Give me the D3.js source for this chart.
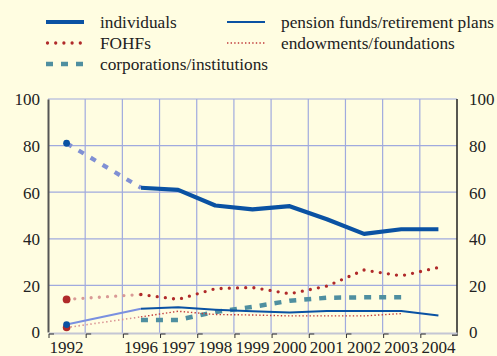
<!DOCTYPE html>
<html>
<head>
<meta charset="utf-8">
<script src="https://cdn.jsdelivr.net/npm/d3@7/dist/d3.min.js"></script>
<style>
  html, body { margin: 0; padding: 0; background: #fffde1; }
  svg { display: block; }
</style>
</head>
<body>
<svg id="chart" width="497" height="356"></svg>
<script>
// Column slots along the x axis (one empty slot stands for 1993–1995)
const slots = ["1992", "1993-95", "1996", "1997", "1998", "1999", "2000", "2001", "2002", "2003", "2004"];
const slotLabels = ["1992", "", "1996", "1997", "1998", "1999", "2000", "2001", "2002", "2003", "2004"];
const yTicks = [0, 20, 40, 60, 80, 100];

// Shares by investor type (%), surveyed years only
const years = ["1996", "1997", "1998", "1999", "2000", "2001", "2002", "2003", "2004"];
const individuals = [61.9, 61, 54.3, 52.6, 54, 48.4, 42.1, 44.1, 44.1];
const pensionFunds = [10, 10.6, 9.6, 8.9, 8.4, 9, 9, 9, 7.1];
const fohfs = [16.1, 14, 18.6, 19.1, 16.4, 19.7, 26.6, 24.1, 27.7];
const endowments = [6.5, 8.9, 7.5, 7.3, 6.9, 6.9, 6.9, 7.9, null];
const corporations = [5.2, 5.2, 8.6, 10.8, 13.4, 14.7, 14.9, 14.9, null];

// 1992 values (joined to 1996 by a lighter bridging line)
const base1992 = { individuals: 81, pensionFunds: 3.2, fohfs: 14, endowments: 1.9 };

const FONT = '"Liberation Serif"';
const setFont = sel => sel.attr("font-family", null).style("font-family", FONT)
  .style("font-size", "17px").attr("fill", "#222");

const svg = d3.select("#chart");
const x = d3.scaleBand().domain(slots).range([48, 457]).padding(0);
const y = d3.scaleLinear().domain([0, 100]).range([332, 99]);
const cx = k => x(k) + x.bandwidth() / 2;

// Grid
const grid = svg.append("g");
grid.selectAll("line.h").data(yTicks.filter(d => d > 0)).join("line")
  .attr("x1", 48).attr("x2", 457)
  .attr("y1", d => y(d)).attr("y2", d => y(d))
  .attr("stroke", "#a0aade").attr("stroke-width", 1.2);
grid.selectAll("line.v").data(slots.slice(1)).join("line")
  .attr("x1", d => x(d)).attr("x2", d => x(d))
  .attr("y1", 99).attr("y2", 334)
  .attr("stroke", "#a0aade").attr("stroke-width", 1.2);

// Left and right axes
const yLeft = d3.axisLeft(y).tickValues(yTicks).tickSize(0).tickPadding(8);
const gl = svg.append("g").attr("transform", "translate(48,0)").call(yLeft).attr("font-family", null);
gl.select(".domain").attr("stroke", "#555").attr("stroke-width", 2);
gl.selectAll("text").call(setFont).attr("dy", "0.35em");

const yRight = d3.axisRight(y).tickValues(yTicks).tickSize(0).tickPadding(12);
const gr = svg.append("g").attr("transform", "translate(457,0)").call(yRight).attr("font-family", null);
gr.select(".domain").remove();
gr.selectAll("text").call(setFont).attr("dy", "0.35em");
svg.append("path").attr("d", `M457,99V335H452`).attr("fill", "none").attr("stroke", "#222").attr("stroke-width", 1.5);

// Bottom axis
const xAxis = d3.axisBottom(x).tickFormat((d, i) => slotLabels[i]).tickSize(0).tickPadding(0);
const gb = svg.append("g").attr("transform", "translate(0,333)").call(xAxis).attr("font-family", null);
gb.select(".domain").attr("stroke", "#c4c6d4").attr("stroke-width", 2);
gb.selectAll("text").call(setFont).attr("y", 20).attr("dy", 0);
svg.append("g").selectAll("path").data(slots).join("path")
  .attr("d", d => `M${x(d) + 1},338V334H${x(d) + 6}`)
  .attr("fill", "none").attr("stroke", "#333").attr("stroke-width", 1);

// Series styles
const series = [
  { key: "corporations", values: corporations, color: "#4f8fa0", width: 4.5, dash: "7 8", cap: "butt" },
  { key: "endowments", values: endowments, color: "#c03a3a", width: 1.4, dash: "1.4 2.2", cap: "butt",
    bridge: { color: "#d88f8f", width: 1.6, dash: "1.4 2.6", cap: "butt" }, dot: { r: 3.8, color: "#b02a2a" } },
  { key: "pensionFunds", values: pensionFunds, color: "#0a52a3", width: 2, dash: null, cap: "butt",
    bridge: { color: "#7a90e0", width: 2, dash: null, cap: "butt" }, dot: { r: 3.4, color: "#0a52a3" } },
  { key: "fohfs", values: fohfs, color: "#b02a2a", width: 3.3, dash: "0 8.2", cap: "round",
    bridge: { color: "#d99a96", width: 3.3, dash: "0 8.2", cap: "round" }, dot: { r: 3.9, color: "#b02a2a" } },
  { key: "individuals", values: individuals, color: "#0a52a3", width: 4.2, dash: null, cap: "butt",
    bridge: { color: "#8090d4", width: 4.2, dash: "6 8", cap: "butt" }, dot: { r: 3.4, color: "#0a52a3" } }
];

const line = d3.line()
  .defined(d => d.v != null)
  .x(d => cx(d.year)).y(d => y(d.v));

const marks = svg.append("g");
series.forEach(s => {
  const pts = years.map((yr, i) => ({ year: yr, v: s.values[i] }));
  if (s.bridge) {
    const b = [{ year: "1992", v: base1992[s.key] }, pts[0]];
    marks.append("path").datum(b)
      .attr("d", line)
      .attr("fill", "none").attr("stroke", s.bridge.color)
      .attr("stroke-width", s.bridge.width)
      .attr("stroke-dasharray", s.bridge.dash)
      .attr("stroke-linecap", s.bridge.cap);
  }
  marks.append("path").datum(pts)
    .attr("d", line)
    .attr("fill", "none").attr("stroke", s.color)
    .attr("stroke-width", s.width)
    .attr("stroke-dasharray", s.dash)
    .attr("stroke-linecap", s.cap)
    .attr("stroke-linejoin", "round");
});
series.filter(s => s.dot).forEach(s => {
  marks.append("circle")
    .attr("cx", cx("1992")).attr("cy", y(base1992[s.key]))
    .attr("r", s.dot.r).attr("fill", s.dot.color);
});

// Legend
const legendItems = [
  { label: "individuals", s: "individuals", col: 0, row: 0 },
  { label: "pension funds/retirement plans", s: "pensionFunds", col: 1, row: 0 },
  { label: "FOHFs", s: "fohfs", col: 0, row: 1 },
  { label: "endowments/foundations", s: "endowments", col: 1, row: 1 },
  { label: "corporations/institutions", s: "corporations", col: 0, row: 2 }
];
const colX = [46, 227];
const legend = svg.append("g");
legendItems.forEach(it => {
  const s = series.find(d => d.key === it.s);
  const lx = colX[it.col], ly = 22 + it.row * 21;
  legend.append("line")
    .attr("x1", lx + (s.cap === "round" ? 1.5 : 0)).attr("x2", lx + 38)
    .attr("y1", ly).attr("y2", ly)
    .attr("stroke", s.color).attr("stroke-width", s.width)
    .attr("stroke-dasharray", s.dash).attr("stroke-linecap", s.cap);
  legend.append("text")
    .attr("x", lx + 54).attr("y", ly + 6)
    .call(setFont)
    .style("font-size", "17.3px")
    .text(it.label);
});
</script>
</body>
</html>
